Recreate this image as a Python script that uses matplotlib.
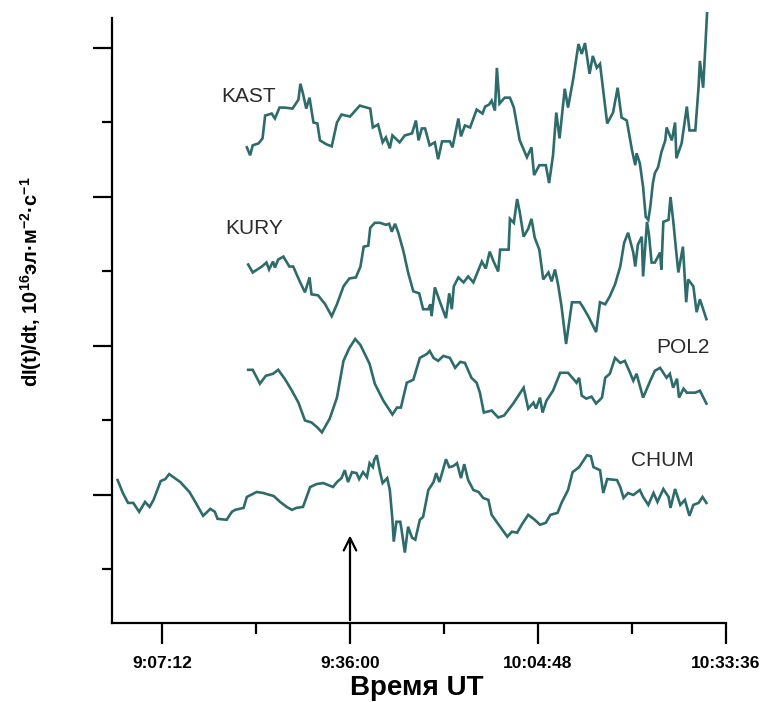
import matplotlib
matplotlib.use('Agg')
import matplotlib.pyplot as plt

plt.rcParams['font.family'] = ['Liberation Sans', 'DejaVu Sans']
plt.rcParams['mathtext.fontset'] = 'custom'
plt.rcParams['mathtext.rm'] = 'Liberation Sans:bold'
plt.rcParams['mathtext.it'] = 'Liberation Sans:bold'
plt.rcParams['mathtext.bf'] = 'Liberation Sans:bold'

# time in minutes after 9:00:00 UT, dI/dt in relative units
chum_t = [0.4, 1.2, 2.0, 2.8, 3.7, 4.6, 5.3, 5.9, 7.0, 7.7, 8.3, 10.0, 11.4, 12.3, 13.5, 14.6,
          15.3, 15.7, 17.1, 17.9, 18.4, 19.7, 20.2, 21.7, 22.7, 23.2, 24.3, 25.3, 26.3, 27.1,
          27.8, 28.8, 29.9, 30.9, 31.9, 33.4, 34.0, 34.7, 35.2, 35.7, 36.3, 37.0, 37.4, 38.0,
          38.6, 39.0, 39.5, 39.7, 40.1, 40.6, 41.0, 41.7, 42.1, 42.5, 42.7, 43.1, 43.7, 43.9,
          44.4, 44.9, 45.5, 46.0, 46.7, 47.2, 48.0, 48.8, 49.2, 49.7, 50.1, 50.7, 51.2, 51.8,
          52.4, 53.0, 53.5, 54.1, 54.9, 55.7, 56.4, 57.2, 57.7, 59.0, 60.1, 60.8, 61.6, 62.3,
          63.3, 64.3, 65.1, 66.0, 66.7, 67.8, 68.4, 69.4, 70.1, 71.1, 72.3, 72.9, 73.3, 74.3,
          74.8, 75.4, 76.9, 77.4, 77.9, 78.6, 79.4, 80.4, 80.9, 81.7, 82.5, 83.1, 84.0, 84.8,
          85.1, 85.8, 86.6, 87.3, 88.0, 88.6, 89.4, 90.0, 90.6]
chum_v = [0.15, 0.02, -0.08, -0.08, -0.17, -0.07, -0.12, -0.05, 0.14, 0.16, 0.21, 0.13, 0.03,
          -0.07, -0.21, -0.14, -0.17, -0.24, -0.25, -0.17, -0.15, -0.13, -0.02, 0.03, 0.02, 0.01,
          -0.01, -0.07, -0.12, -0.15, -0.13, -0.12, 0.08, 0.11, 0.12, 0.08, 0.13, 0.17, 0.25,
          0.13, 0.23, 0.22, 0.16, 0.23, 0.18, 0.32, 0.28, 0.35, 0.40, 0.23, 0.12, 0.17, 0.05,
          -0.25, -0.47, -0.27, -0.27, -0.35, -0.58, -0.32, -0.43, -0.45, -0.25, -0.22, 0.05,
          0.13, 0.22, 0.13, 0.22, 0.36, 0.28, 0.29, 0.32, 0.17, 0.31, 0.15, 0.05, 0.03, -0.03,
          -0.05, -0.20, -0.32, -0.42, -0.37, -0.38, -0.30, -0.20, -0.25, -0.30, -0.28, -0.20,
          -0.18, -0.08, 0.05, 0.23, 0.28, 0.40, 0.39, 0.28, 0.25, 0.02, 0.16, 0.15, 0.08, -0.03,
          0.02, 0.00, 0.05, -0.02, -0.10, 0.02, -0.07, 0.06, -0.02, -0.13, 0.06, -0.10, -0.05,
          -0.21, -0.10, -0.08, -0.02, -0.08]

pol2_t = [20.4, 21.1, 22.2, 23.1, 24.2, 25.0, 26.0, 27.1, 28.1, 29.1, 30.1, 31.0, 31.7, 32.9,
          34.0, 35.0, 35.9, 36.8, 37.6, 39.0, 39.8, 41.1, 42.5, 43.2, 43.8, 44.7, 45.7, 46.7,
          47.8, 48.2, 48.8, 49.5, 50.3, 51.3, 52.1, 52.9, 53.6, 54.6, 55.4, 55.9, 56.5, 57.7,
          58.7, 59.6, 61.0, 62.6, 63.3, 64.1, 64.5, 65.1, 65.5, 66.1, 67.1, 68.2, 69.4, 70.2,
          70.7, 71.1, 71.5, 72.2, 73.0, 73.7, 74.6, 75.1, 75.8, 76.6, 77.4, 78.1, 78.9, 79.4,
          79.9, 80.9, 82.0, 82.7, 83.5, 84.5, 85.0, 85.5, 86.1, 86.4, 87.1, 87.6, 88.9, 89.6,
          90.6]
pol2_v = [0.06, 0.06, -0.08, 0.00, 0.02, 0.06, -0.03, -0.15, -0.27, -0.45, -0.47, -0.52, -0.57,
          -0.43, -0.22, 0.15, 0.28, 0.37, 0.31, 0.12, -0.08, -0.25, -0.39, -0.32, -0.32, -0.07,
          -0.04, 0.18, 0.22, 0.25, 0.18, 0.15, 0.20, 0.18, 0.08, 0.14, 0.13, -0.02, -0.07, -0.17,
          -0.37, -0.35, -0.42, -0.40, -0.28, -0.12, -0.33, -0.27, -0.33, -0.22, -0.37, -0.25,
          -0.15, 0.03, 0.03, -0.03, -0.07, -0.02, -0.20, -0.23, -0.21, -0.28, -0.22, -0.02, 0.02,
          0.18, 0.13, 0.15, 0.03, -0.05, 0.02, -0.22, -0.05, 0.05, 0.08, -0.02, 0.02, -0.12,
          -0.03, -0.22, -0.13, -0.17, -0.17, -0.15, -0.28]

kury_t = [20.4, 21.1, 22.5, 23.2, 23.6, 24.2, 24.5, 25.0, 25.8, 26.7, 27.3, 28.3, 29.1, 29.8,
          30.1, 31.1, 32.2, 33.2, 34.0, 35.0, 35.9, 36.9, 37.6, 38.1, 38.8, 39.1, 39.8, 40.6,
          41.5, 42.0, 42.4, 42.9, 43.4, 44.2, 44.9, 45.7, 46.6, 47.2, 48.0, 48.3, 48.5, 49.0,
          49.8, 50.7, 51.2, 51.6, 51.9, 52.6, 53.4, 54.1, 54.9, 56.2, 56.8, 57.4, 58.0, 58.7,
          59.0, 60.3, 60.5, 61.1, 61.6, 62.0, 62.6, 63.3, 63.8, 64.3, 65.0, 65.6, 66.4, 66.9,
          67.4, 67.9, 68.4, 69.1, 69.7, 70.0, 71.2, 71.7, 72.5, 73.7, 74.3, 75.1, 75.8, 76.6,
          77.4, 78.0, 78.6, 79.4, 79.7, 80.1, 80.7, 80.9, 81.5, 81.8, 82.2, 82.7, 83.5, 83.7,
          84.0, 84.8, 85.1, 85.5, 85.9, 86.3, 87.0, 87.5, 87.8, 88.6, 89.1, 89.6, 90.6]
kury_v = [-0.10, -0.18, -0.12, -0.08, -0.15, -0.07, -0.13, -0.05, -0.02, -0.12, -0.12, -0.27,
          -0.38, -0.23, -0.40, -0.41, -0.50, -0.62, -0.50, -0.32, -0.24, -0.23, -0.12, 0.08,
          0.09, 0.27, 0.32, 0.32, 0.30, 0.31, 0.23, 0.31, 0.22, 0.03, -0.18, -0.37, -0.39,
          -0.55, -0.55, -0.50, -0.62, -0.33, -0.48, -0.64, -0.39, -0.55, -0.32, -0.23, -0.28,
          -0.22, -0.28, -0.07, -0.14, 0.03, -0.07, -0.17, 0.05, 0.05, 0.36, 0.32, 0.56, 0.43,
          0.18, 0.26, 0.36, 0.17, 0.05, -0.25, -0.18, -0.27, -0.15, -0.31, -0.52, -0.90, -0.62,
          -0.48, -0.48, -0.53, -0.62, -0.78, -0.48, -0.50, -0.42, -0.30, -0.12, 0.12, 0.22, 0.02,
          -0.12, 0.10, 0.18, -0.22, 0.33, 0.20, -0.08, -0.08, 0.02, -0.15, 0.33, 0.35, 0.58,
          0.35, 0.08, -0.18, 0.08, -0.48, -0.25, -0.32, -0.58, -0.45, -0.65]

kast_t = [20.2, 20.7, 21.1, 22.0, 22.6, 23.0, 24.0, 24.5, 25.2, 26.0, 27.2, 28.1, 28.4, 28.8,
          29.3, 29.8, 30.4, 31.0, 31.4, 32.4, 33.2, 34.0, 34.7, 36.0, 37.5, 39.1, 39.5, 40.3,
          41.0, 41.5, 42.1, 42.5, 43.6, 44.4, 45.5, 46.1, 46.5, 47.0, 47.5, 48.2, 49.0, 49.5,
          50.1, 51.3, 51.7, 52.6, 53.0, 53.6, 54.4, 55.4, 56.3, 56.7, 57.3, 57.7, 58.2, 58.5,
          58.9, 59.7, 60.5, 61.1, 62.0, 63.1, 63.8, 64.2, 65.0, 66.0, 66.5, 67.1, 67.6, 68.1,
          68.9, 69.4, 70.2, 71.0, 71.5, 72.0, 72.7, 73.2, 73.8, 74.3, 75.4, 76.3, 77.0, 77.6,
          78.4, 79.2, 79.7, 79.9, 80.4, 80.9, 81.3, 81.7, 82.0, 82.4, 82.7, 83.2, 83.7, 84.3,
          84.5, 85.3, 85.8, 86.0, 86.8, 87.6, 88.0, 88.9, 89.4, 89.6, 90.1, 90.5, 90.7]
kast_v = [-0.12, -0.20, -0.10, -0.08, -0.03, 0.20, 0.22, 0.17, 0.28, 0.28, 0.27, 0.36, 0.52,
          0.42, 0.27, 0.38, 0.13, 0.12, -0.05, -0.09, -0.11, 0.13, 0.21, 0.19, 0.30, 0.27, 0.08,
          0.11, -0.07, -0.02, -0.13, 0.00, -0.07, 0.00, 0.02, 0.15, -0.05, 0.07, 0.07, -0.10,
          -0.07, -0.24, -0.06, -0.06, -0.12, 0.17, -0.01, 0.10, 0.08, 0.26, 0.22, 0.29, 0.31,
          0.35, 0.25, 0.68, 0.32, 0.38, 0.38, 0.28, -0.05, -0.22, -0.12, -0.40, -0.30, -0.30,
          -0.48, -0.20, 0.23, -0.03, 0.47, 0.28, 0.57, 0.92, 0.82, 0.93, 0.62, 0.80, 0.68, 0.72,
          0.12, 0.23, 0.48, 0.18, 0.15, -0.15, -0.30, -0.18, -0.28, -0.52, -0.82, -0.85, -0.72,
          -0.48, -0.38, -0.32, -0.17, -0.05, 0.08, -0.05, 0.13, -0.23, -0.08, 0.29, 0.05, 0.05,
          0.49, 0.75, 0.48, 0.98, 1.23]

stations = ['CHUM', 'POL2', 'KURY', 'KAST']
offsets = [0.0, 1.2, 2.42, 3.62]
series = [(chum_t, chum_v), (pol2_t, pol2_v), (kury_t, kury_v), (kast_t, kast_v)]
# where each station name is written (minutes, relative units)
name_pos = [(83.8, 0.35), (87.0, 1.48), (21.3, 2.68), (20.5, 4.01)]

tick_times = [7.2, 36.0, 64.8, 93.6]
tick_labels = ['9:07:12', '9:36:00', '10:04:48', '10:33:36']
minor_times = [21.6, 50.4, 79.2]
event_time = 36.0

line_color = '#2e6b6b'

fig = plt.figure(figsize=(7.62, 7.02), dpi=100)
ax = fig.add_axes([112 / 762, 1 - 623 / 702, 614 / 762, 605 / 702])

for name, off, (t, v), (nx, ny) in zip(stations, offsets, series, name_pos):
    ax.plot(t, [off + d for d in v], color=line_color, lw=1.9, clip_on=False,
            solid_joinstyle='miter')
    ax.text(nx, ny, name, fontsize=15, color='#2a2a2a', ha='center', va='center')

ax.set_xlim(-0.46, 93.6)
ax.set_ylim(-1.289, 4.802)

# event marker
ax.annotate('', xy=(event_time, -0.38), xytext=(event_time, -1.289),
            arrowprops=dict(arrowstyle='->,head_length=0.9,head_width=0.45',
                            color='black', lw=1.6))

ax.spines['top'].set_visible(False)
ax.spines['right'].set_visible(False)
for s in ['left', 'bottom']:
    ax.spines[s].set_linewidth(1.6)

ax.set_xticks(tick_times)
ax.set_xticklabels(tick_labels, fontsize=12.5, fontweight='bold')
ax.set_xticks(minor_times, minor=True)
ax.set_yticks([0, 1.5, 3.0, 4.5])
ax.set_yticks([-0.75, 0.75, 2.25, 3.75], minor=True)
ax.set_yticklabels([])
ax.tick_params(axis='x', which='major', length=15, width=1.6, pad=9)
ax.tick_params(axis='x', which='minor', length=8, width=1.6)
ax.tick_params(axis='y', which='major', length=14, width=1.6)
ax.tick_params(axis='y', which='minor', length=7, width=1.6)

fig.text(417 / 762, 1 - 688 / 702, 'Время UT', fontsize=20, fontweight='bold',
         ha='center', va='center')
fig.text(31 / 762, 1 - 282 / 702,
         r'dI(t)/dt, 10$^{16}$эл·м$^{-2}$·с$^{-1}$',
         fontsize=14.5, fontweight='bold', rotation=90, ha='center', va='center')

fig.savefig('out.png', dpi=100)
